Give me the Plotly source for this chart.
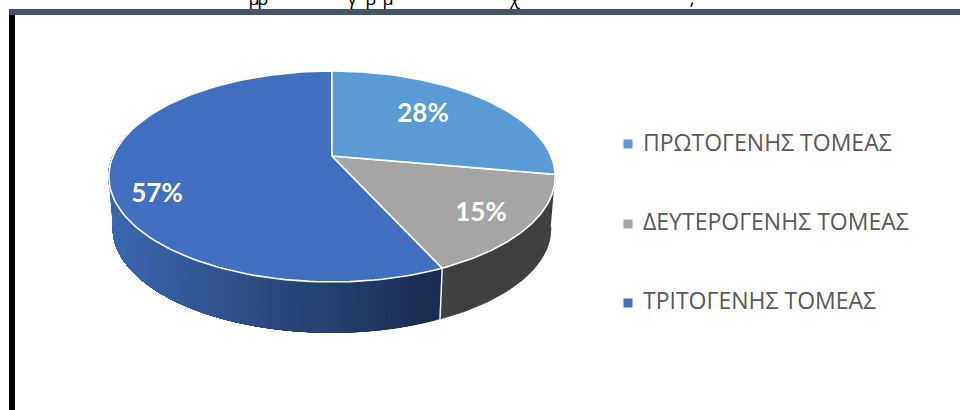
import numpy as np
import plotly.graph_objects as go

# ---- data ----
categories = ["ΠΡΩΤΟΓΕΝΗΣ ΤΟΜΕΑΣ", "ΔΕΥΤΕΡΟΓΕΝΗΣ ΤΟΜΕΑΣ", "ΤΡΙΤΟΓΕΝΗΣ ΤΟΜΕΑΣ"]
values = [27.8, 15.4, 56.8]
clipped_title_glyphs = ["μ", "ρ", "γ", "ρ", "μ", "χ", ","]

# ---- style / layout ----
top_colors = ["#5B9BD5", "#A5A5A5", "#4170C1"]
legend_colors = ["#5B9BD5", "#A5A5A5", "#4472C4"]
side_gray = "#404040"
side_left = np.array([59, 104, 177])
side_right = np.array([26, 44, 80])
label_xy = [(423, 115), (481, 214), (157, 195)]
legend_y = [144, 224, 303]
legend_text_y = [145, 224, 303]
title_x = [254, 263, 352, 371, 388, 515, 692]

CX, CY, A, B, K = 332.0, 156.0, 219.0, 101.5, 0.194
DROP, BOTTOM_SCALE = 53.0, 0.98


def project(theta_deg, bottom=False):
    t = np.radians(theta_deg)
    u, v = np.sin(t), np.cos(t)
    w = 1 + K * v
    s = BOTTOM_SCALE if bottom else 1.0
    return CX + s * A * u / w, CY + (DROP if bottom else 0.0) - s * B * v / w


def hexc(rgb):
    return "rgb(%d,%d,%d)" % tuple(int(round(c)) for c in rgb)


def poly(xs, ys, fill, line=None, width=1.0, name=None):
    return go.Scatter(x=list(xs), y=list(ys), mode="lines", fill="toself", fillcolor=fill,
                      line=dict(color=line or fill, width=width), hoverinfo="skip",
                      showlegend=False, name=name)


fig = go.Figure()

edges = np.cumsum([0] + values) * 3.6

# side wall: secondary slice (solid)
th = np.linspace(edges[1], edges[2], 50)
x1, y1 = project(th)
x2, y2 = project(th[::-1], bottom=True)
fig.add_trace(poly(np.r_[x1, x2], np.r_[y1, y2], side_gray))

# side wall: tertiary slice, gradient painted right to left, each layer covering
# everything from its start to the left silhouette so no seams appear
LEFT_LIMIT = 282.0
for a in np.linspace(edges[2], LEFT_LIMIT, 110)[:-1]:
    th = np.linspace(a, LEFT_LIMIT, 40)
    x1, y1 = project(th)
    x2, y2 = project(th[::-1], bottom=True)
    xm = (x1[0] + x2[-1]) / 2
    f = np.clip((xm - 110) / (440 - 110), 0, 1)
    col = hexc(side_left + (side_right - side_left) * f)
    fig.add_trace(poly(np.r_[x1, x2], np.r_[y1, y2], col, width=0.3))

# white edge where the two walls meet
xa, ya = project(np.array([edges[2]]))
xb, yb = project(np.array([edges[2]]), bottom=True)
fig.add_trace(go.Scatter(x=[xa[0], xb[0]], y=[ya[0], yb[0]], mode="lines",
                         line=dict(color="#F2F2F2", width=1.5), hoverinfo="skip", showlegend=False))

# top face
for i in [2, 1, 0]:
    th = np.linspace(edges[i], edges[i + 1], 120)
    x, y = project(th)
    fig.add_trace(poly(np.r_[CX, x, CX], np.r_[CY, y, CY], top_colors[i], line="#FFFFFF",
                       width=1.6, name=categories[i]))

# percentage labels
fig.add_trace(go.Scatter(x=[p[0] for p in label_xy], y=[p[1] for p in label_xy], mode="text",
                         text=["%.0f%%" % v for v in values], textposition="middle center",
                         textfont=dict(family="Lato, 'Open Sans', sans-serif", size=26,
                                       color="#FFFFFF", weight="bold"),
                         hoverinfo="skip", showlegend=False))

# legend
fig.add_trace(go.Scatter(x=[628] * 3, y=legend_y, mode="markers",
                         marker=dict(symbol="square", size=9, color=legend_colors, line=dict(width=0)),
                         hoverinfo="skip", showlegend=False))
fig.add_trace(go.Scatter(x=[643] * 3, y=legend_text_y, mode="text", text=categories,
                         textposition="middle right",
                         textfont=dict(family="'Open Sans', sans-serif", size=23, color="#595959"),
                         hoverinfo="skip", showlegend=False))

# clipped remains of the heading above the frame
fig.add_trace(go.Scatter(x=title_x, y=[0] * len(title_x), mode="text", text=clipped_title_glyphs,
                         textposition="middle center",
                         textfont=dict(family="'Open Sans', sans-serif", size=18, color="#000000"),
                         hoverinfo="skip", showlegend=False, cliponaxis=False))

fig.update_layout(
    width=960, height=410, autosize=False,
    margin=dict(l=0, r=0, t=0, b=0),
    paper_bgcolor="#FFFFFF", plot_bgcolor="#FFFFFF", showlegend=False,
    xaxis=dict(range=[0, 960], visible=False, fixedrange=True),
    yaxis=dict(range=[410, 0], visible=False, fixedrange=True),
    shapes=[
        dict(type="rect", xref="x", yref="y", x0=9, x1=960, y0=9, y1=15,
             fillcolor="#44546A", line=dict(width=0), layer="above"),
        dict(type="rect", xref="x", yref="y", x0=9, x1=15, y0=15, y1=410,
             fillcolor="#000000", line=dict(width=0), layer="above"),
    ],
)
fig.write_html("out.html", config=dict(displayModeBar=False),
               post_script="document.body.style.margin='0';document.documentElement.style.overflow='hidden';")
